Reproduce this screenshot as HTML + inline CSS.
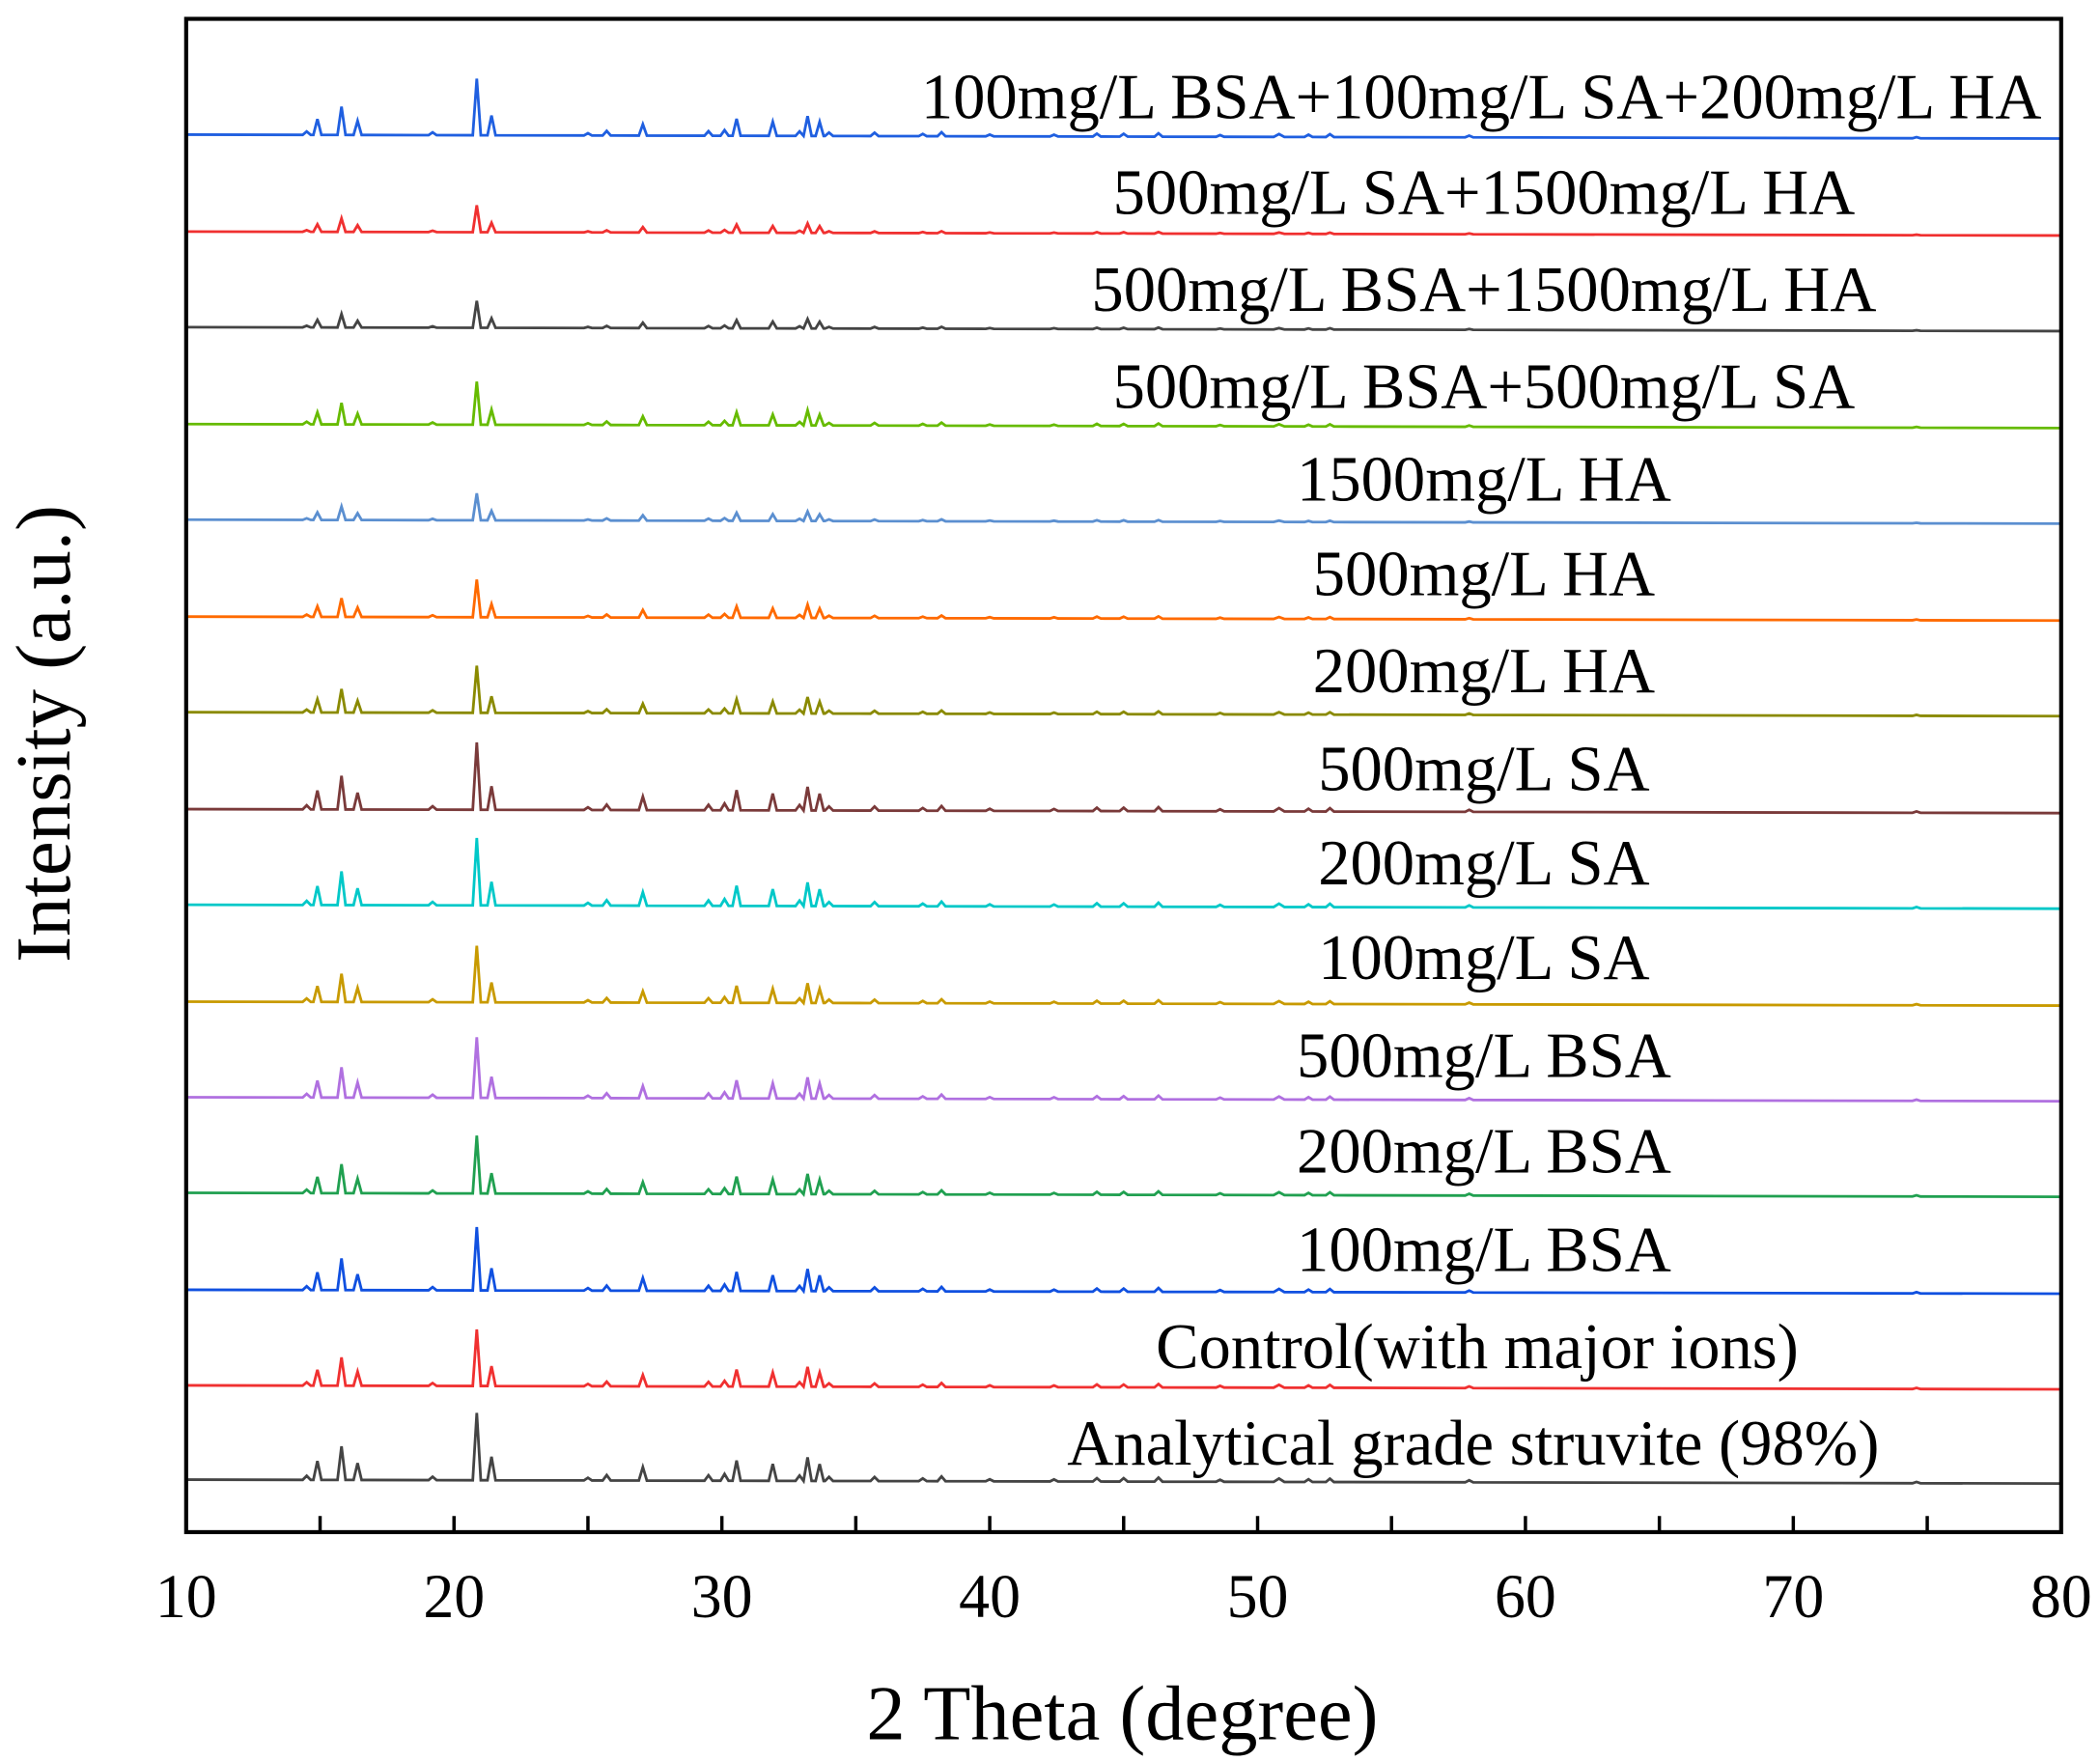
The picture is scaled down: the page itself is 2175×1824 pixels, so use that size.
<!DOCTYPE html>
<html><head><meta charset="utf-8"><style>html,body{margin:0;padding:0;background:#fff}svg{display:block}use{vector-effect:non-scaling-stroke}</style></head>
<body>
<svg width="2175" height="1824" viewBox="0 0 1568 1308" preserveAspectRatio="none" xmlns="http://www.w3.org/2000/svg" xmlns:xlink="http://www.w3.org/1999/xlink" font-family="Liberation Serif, serif">
<defs>
<path id="p" fill="none" vector-effect="non-scaling-stroke" d="M139 0 L226 0 L229 -0.06 L232 0 L234 0 L237 -0.28 L240 0 L252 0 L255 -0.5 L258 0 L264 0 L267 -0.25 L270 0 L320 0 L323 -0.05 L326 0 L353 0 L356 -1 L359 0 L364 0 L367 -0.35 L370 0 L436 0 L439 -0.04 L442 0 L450 0 L453 -0.08 L456 0 L477 0 L480 -0.2 L483 0 L526 0 L529 -0.08 L532 0 L538 0 L541 -0.1 L544 0 L547 0 L550 -0.3 L553 0 L574 0 L577 -0.25 L580 0 L594 0 L597 -0.08 L600 0 L603 -0.35 L606 0 L609 0 L612 -0.25 L615 0 L616 0 L619 -0.06 L622 0 L650 0 L653 -0.06 L656 0 L686 0 L689 -0.04 L692 0 L700 0 L703 -0.07 L706 0 L736 0 L739 -0.03 L742 0 L784 0 L787 -0.03 L790 0 L816 0 L819 -0.05 L822 0 L836 0 L839 -0.05 L842 0 L862 0 L865 -0.06 L868 0 L908 0 L911 -0.03 L914 0 L951 0 L955 -0.05 L959 0 L974 0 L977 -0.04 L980 0 L990 0 L993 -0.05 L996 0 L1094 0 L1097 -0.03 L1100 0 L1428 0 L1431 -0.02 L1434 0 L1539 0"/>
</defs>
<rect x="0" y="0" width="1568" height="1308" fill="#fff"/>
<g stroke-width="2.8">
<use xlink:href="#p" stroke="#1f5fe0" transform="translate(0,99.7) skewY(0.12) scale(1,42)"/>
<use xlink:href="#p" stroke="#f03030" transform="translate(0,171.7) skewY(0.12) scale(1,20)"/>
<use xlink:href="#p" stroke="#444" transform="translate(0,242.7) skewY(0.12) scale(1,20)"/>
<use xlink:href="#p" stroke="#66bb00" transform="translate(0,314.7) skewY(0.12) scale(1,32)"/>
<use xlink:href="#p" stroke="#5b8fd0" transform="translate(0,385.7) skewY(0.12) scale(1,20)"/>
<use xlink:href="#p" stroke="#ff6a00" transform="translate(0,457.7) skewY(0.12) scale(1,28)"/>
<use xlink:href="#p" stroke="#8a8a00" transform="translate(0,528.7) skewY(0.12) scale(1,35)"/>
<use xlink:href="#p" stroke="#7a3a3a" transform="translate(0,600.7) skewY(0.12) scale(1,50)"/>
<use xlink:href="#p" stroke="#00c8c8" transform="translate(0,671.7) skewY(0.12) scale(1,50)"/>
<use xlink:href="#p" stroke="#c89a00" transform="translate(0,743.7) skewY(0.12) scale(1,42)"/>
<use xlink:href="#p" stroke="#b070e0" transform="translate(0,814.7) skewY(0.12) scale(1,45)"/>
<use xlink:href="#p" stroke="#20a050" transform="translate(0,885.7) skewY(0.12) scale(1,43)"/>
<use xlink:href="#p" stroke="#1050e0" transform="translate(0,957.7) skewY(0.12) scale(1,47)"/>
<use xlink:href="#p" stroke="#f03030" transform="translate(0,1028.7) skewY(0.12) scale(1,42)"/>
<use xlink:href="#p" stroke="#444" transform="translate(0,1098.7) skewY(0.12) scale(1,50)"/>
</g>
<rect x="139" y="14" width="1400" height="1124" fill="none" stroke="#000" stroke-width="3"/>
<g stroke="#000" stroke-width="2.5">
<path d="M239 1138v-12M339 1138v-12M439 1138v-12M539 1138v-12M639 1138v-12M739 1138v-12M839 1138v-12M939 1138v-12M1039 1138v-12M1139 1138v-12M1239 1138v-12M1339 1138v-12M1439 1138v-12"/>
</g>
<g font-size="46" text-anchor="middle" fill="#000">
<text x="139" y="1201">10</text><text x="339" y="1201">20</text><text x="539" y="1201">30</text><text x="739" y="1201">40</text><text x="939" y="1201">50</text><text x="1139" y="1201">60</text><text x="1339" y="1201">70</text><text x="1539" y="1201">80</text>
</g>
<text x="838" y="1292" font-size="58" text-anchor="middle">2 Theta (degree)</text>
<text transform="translate(52,545) rotate(-90)" font-size="58" text-anchor="middle">Intensity (a.u.)</text>
<g font-size="48" text-anchor="middle" fill="#000">
<text x="1106" y="88">100mg/L BSA+100mg/L SA+200mg/L HA</text>
<text x="1108" y="159">500mg/L SA+1500mg/L HA</text>
<text x="1108" y="231">500mg/L BSA+1500mg/L HA</text>
<text x="1108" y="303">500mg/L BSA+500mg/L SA</text>
<text x="1108" y="372">1500mg/L HA</text>
<text x="1108" y="442">500mg/L HA</text>
<text x="1108" y="514">200mg/L HA</text>
<text x="1108" y="587">500mg/L SA</text>
<text x="1108" y="657">200mg/L SA</text>
<text x="1108" y="727">100mg/L SA</text>
<text x="1108" y="800">500mg/L BSA</text>
<text x="1108" y="871">200mg/L BSA</text>
<text x="1108" y="944">100mg/L BSA</text>
<text x="1103" y="1016">Control(with major ions)</text>
<text x="1100" y="1088">Analytical grade struvite (98%)</text>
</g>
</svg>
</body></html>
